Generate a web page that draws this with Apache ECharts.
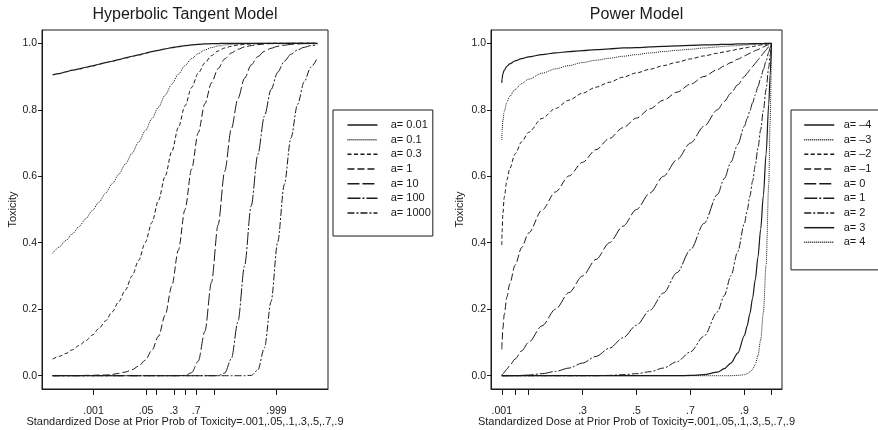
<!DOCTYPE html>
<html>
<head>
<meta charset="utf-8">
<script src="https://cdn.jsdelivr.net/npm/echarts@6/dist/echarts.min.js"></script>
<style>
  html, body { margin: 0; padding: 0; background: #fff; }
  #chart { width: 878px; height: 430px; }
</style>
</head>
<body>
<div id="chart"></div>
<script>
// ---- Hyperbolic tangent model: standardized dose -5..5 ----
const tanhX = [-5, -4.75, -4.5, -4.25, -4, -3.75, -3.5, -3.25, -3, -2.75, -2.5, -2.25, -2, -1.75, -1.5, -1.25, -1, -0.75, -0.5, -0.25,
  0, 0.25, 0.5, 0.75, 1, 1.25, 1.5, 1.75, 2, 2.25, 2.5, 2.75, 3, 3.25, 3.5, 3.75, 4, 4.25, 4.5, 4.75, 5]

const tanhA001 = [0.905, 0.909, 0.914, 0.919, 0.923, 0.928, 0.932, 0.937, 0.942, 0.946, 0.951, 0.956, 0.961, 0.965, 0.970, 0.975, 0.979, 0.983, 0.987, 0.990,
  0.993, 0.995, 0.997, 0.998, 0.999, 0.999, 1, 1, 1, 1, 1, 1, 1, 1, 1, 1, 1, 1, 1, 1, 1]
const tanhA01 = [0.368, 0.387, 0.407, 0.427, 0.449, 0.472, 0.497, 0.522, 0.549, 0.577, 0.606, 0.637, 0.669, 0.703, 0.737, 0.773, 0.808, 0.844, 0.877, 0.907,
  0.933, 0.954, 0.969, 0.980, 0.987, 0.992, 0.995, 0.997, 0.998, 0.999, 0.999, 1, 1, 1, 1, 1, 1, 1, 1, 1, 1]
const tanhA03 = [0.050, 0.058, 0.067, 0.078, 0.091, 0.105, 0.122, 0.142, 0.165, 0.192, 0.223, 0.258, 0.300, 0.347, 0.401, 0.461, 0.528, 0.600, 0.674, 0.747,
  0.812, 0.867, 0.910, 0.941, 0.963, 0.977, 0.986, 0.991, 0.995, 0.997, 0.998, 0.999, 0.999, 1, 1, 1, 1, 1, 1, 1, 1]
const tanhA1 = [0, 0, 0, 0, 0, 0.001, 0.001, 0.002, 0.002, 0.004, 0.007, 0.011, 0.018, 0.029, 0.047, 0.076, 0.119, 0.182, 0.269, 0.378,
  0.5, 0.622, 0.731, 0.818, 0.881, 0.924, 0.953, 0.971, 0.982, 0.989, 0.993, 0.996, 0.998, 0.999, 0.999, 0.999, 1, 1, 1, 1, 1]
const tanhA10 = [0, 0, 0, 0, 0, 0, 0, 0, 0, 0, 0, 0, 0, 0, 0, 0, 0, 0, 0, 0,
  0.001, 0.009, 0.044, 0.133, 0.281, 0.454, 0.615, 0.743, 0.834, 0.895, 0.935, 0.960, 0.976, 0.985, 0.991, 0.994, 0.997, 0.998, 0.999, 0.999, 0.999]
const tanhA100 = [0, 0, 0, 0, 0, 0, 0, 0, 0, 0, 0, 0, 0, 0, 0, 0, 0, 0, 0, 0,
  0, 0, 0, 0, 0, 0, 0.008, 0.051, 0.163, 0.331, 0.511, 0.665, 0.781, 0.861, 0.913, 0.946, 0.967, 0.980, 0.988, 0.993, 0.995]
const tanhA1000 = [0, 0, 0, 0, 0, 0, 0, 0, 0, 0, 0, 0, 0, 0, 0, 0, 0, 0, 0, 0,
  0, 0, 0, 0, 0, 0, 0, 0, 0, 0, 0.001, 0.017, 0.084, 0.223, 0.402, 0.575, 0.715, 0.816, 0.884, 0.928, 0.956]

const tanhNames = ['a= 0.01', 'a= 0.1', 'a= 0.3', 'a= 1', 'a= 10', 'a= 100', 'a= 1000']
const tanhValues = [tanhA001, tanhA01, tanhA03, tanhA1, tanhA10, tanhA100, tanhA1000]
const tanhTicks = [-3.453, -1.472, -1.099, -0.424, 0, 0.424, 1.099, 3.453]
const tanhTickLabels = ['.001', '.05', '', '.3', '', '.7', '', '.999']

// ---- Power model: standardized dose .001..1 ----
const powX = [0.001, 0.002, 0.005, 0.01, 0.02, 0.03, 0.05, 0.075, 0.1, 0.15, 0.2, 0.25, 0.3, 0.35, 0.4, 0.45, 0.5, 0.55, 0.6,
  0.65, 0.7, 0.75, 0.8, 0.825, 0.85, 0.875, 0.9, 0.91, 0.92, 0.93, 0.94, 0.95, 0.96, 0.97, 0.98, 0.99, 0.995, 1]

const powM4 = [0.881, 0.892, 0.908, 0.919, 0.931, 0.938, 0.947, 0.954, 0.959, 0.966, 0.971, 0.975, 0.978, 0.981, 0.983, 0.986, 0.987, 0.989, 0.991,
  0.992, 0.994, 0.995, 0.996, 0.997, 0.997, 0.998, 0.998, 0.998, 0.999, 0.999, 0.999, 0.999, 0.999, 0.999, 1, 1, 1, 1]
const powM3 = [0.709, 0.734, 0.768, 0.795, 0.823, 0.840, 0.861, 0.879, 0.892, 0.910, 0.923, 0.933, 0.942, 0.949, 0.955, 0.961, 0.966, 0.971, 0.975,
  0.979, 0.982, 0.986, 0.989, 0.991, 0.992, 0.993, 0.995, 0.995, 0.996, 0.996, 0.997, 0.998, 0.998, 0.999, 0.999, 1, 1, 1]
const powM2 = [0.393, 0.431, 0.488, 0.536, 0.589, 0.622, 0.667, 0.704, 0.732, 0.774, 0.804, 0.829, 0.850, 0.868, 0.883, 0.898, 0.911, 0.922, 0.933,
  0.943, 0.953, 0.962, 0.970, 0.974, 0.978, 0.982, 0.986, 0.987, 0.989, 0.990, 0.992, 0.993, 0.995, 0.996, 0.997, 0.999, 0.999, 1]
const powM1 = [0.079, 0.102, 0.142, 0.184, 0.237, 0.275, 0.332, 0.386, 0.429, 0.498, 0.553, 0.601, 0.642, 0.680, 0.714, 0.746, 0.775, 0.803, 0.829,
  0.853, 0.877, 0.900, 0.921, 0.932, 0.942, 0.952, 0.962, 0.966, 0.970, 0.974, 0.978, 0.981, 0.985, 0.989, 0.993, 0.996, 0.998, 1]
const pow0 = [0.001, 0.002, 0.005, 0.01, 0.02, 0.03, 0.05, 0.075, 0.1, 0.15, 0.2, 0.25, 0.3, 0.35, 0.4, 0.45, 0.5, 0.55, 0.6,
  0.65, 0.7, 0.75, 0.8, 0.825, 0.85, 0.875, 0.9, 0.91, 0.92, 0.93, 0.94, 0.95, 0.96, 0.97, 0.98, 0.99, 0.995, 1]
const powP1 = [0, 0, 0, 0, 0, 0, 0, 0.001, 0.002, 0.006, 0.013, 0.023, 0.038, 0.058, 0.083, 0.114, 0.152, 0.197, 0.249,
  0.310, 0.379, 0.458, 0.545, 0.593, 0.643, 0.696, 0.751, 0.774, 0.797, 0.821, 0.845, 0.870, 0.895, 0.921, 0.947, 0.973, 0.987, 1]
const powP2 = [0, 0, 0, 0, 0, 0, 0, 0, 0, 0, 0, 0, 0, 0, 0.001, 0.003, 0.006, 0.012, 0.023,
  0.042, 0.072, 0.119, 0.192, 0.241, 0.301, 0.373, 0.459, 0.498, 0.540, 0.585, 0.633, 0.685, 0.740, 0.798, 0.861, 0.928, 0.964, 1]
const powP3 = [0, 0, 0, 0, 0, 0, 0, 0, 0, 0, 0, 0, 0, 0, 0, 0, 0, 0, 0,
  0, 0.001, 0.003, 0.011, 0.021, 0.038, 0.068, 0.121, 0.150, 0.187, 0.233, 0.289, 0.357, 0.441, 0.542, 0.667, 0.817, 0.904, 1]
const powP4 = [0, 0, 0, 0, 0, 0, 0, 0, 0, 0, 0, 0, 0, 0, 0, 0, 0, 0, 0,
  0, 0, 0, 0, 0, 0, 0.001, 0.003, 0.006, 0.011, 0.019, 0.034, 0.061, 0.108, 0.190, 0.332, 0.578, 0.761, 1]

const powNames = ['a= \u20134', 'a= \u20133', 'a= \u20132', 'a= \u20131', 'a= 0', 'a= 1', 'a= 2', 'a= 3', 'a= 4']
const powValues = [powM4, powM3, powM2, powM1, pow0, powP1, powP2, powP3, powP4]
const powTicks = [0.001, 0.05, 0.1, 0.3, 0.5, 0.7, 0.9, 1]
const powTickLabels = ['.001', '', '', '.3', '.5', '.7', '.9', '']

const yTicks = [0, 0.2, 0.4, 0.6, 0.8, 1.0]
const xTitle = 'Standardized Dose at Prior Prob of Toxicity=.001,.05,.1,.3,.5,.7,.9'

// line patterns, one per curve (R lty 1..6 style)
const tanhDash = ['solid', [1, 1], [4, 2.5], [7, 3], [12, 3], [13, 2, 2, 2], [7, 2, 2, 2]]
const powDash = ['solid', [1, 1], [4, 2.5], [7, 3], [12, 3], [13, 2, 2, 2], [7, 2, 2, 2], 'solid', [1, 1]]

const FONT = '"Liberation Sans", Arial, Helvetica, sans-serif'
const INK = '#1a1a1a'

function lineSeries(key, name, xs, ys, dash, idx) {
  return {
    name: key + '|' + name,
    type: 'line',
    xAxisIndex: idx,
    yAxisIndex: idx,
    data: xs.map((x, i) => [x, ys[i]]),
    symbol: 'none',
    showSymbol: false,
    smooth: 0.3,
    smoothMonotone: 'x',
    lineStyle: { color: INK, width: dash === 'solid' ? 1.2 : 1, type: dash },
    itemStyle: { color: INK },
    emphasis: { disabled: true },
    silent: true,
  }
}

function doseAxis(idx, min, max, ticks, labels) {
  return {
    type: 'value',
    gridIndex: idx,
    min,
    max,
    axisLine: { show: true, onZero: false, lineStyle: { color: INK, width: 1 } },
    splitLine: { show: false },
    axisTick: { show: true, length: 6, lineStyle: { color: INK }, customValues: ticks },
    axisLabel: {
      customValues: ticks.filter((t, i) => labels[i] !== ''),
      formatter: (v) => {
        const i = ticks.findIndex(t => Math.abs(t - v) < 1e-6)
        return i >= 0 ? labels[i] : ''
      },
      margin: 17,
      fontSize: 10.5,
      color: INK,
      fontFamily: FONT,
    },
    name: xTitle,
    nameLocation: 'middle',
    nameGap: 27,
    nameMoveOverlap: false,
    nameTextStyle: { fontSize: 11, color: INK, fontFamily: FONT },
  }
}

function toxAxis(idx, gap) {
  return {
    type: 'value',
    gridIndex: idx,
    min: -0.04,
    max: 1.04,
    axisLine: { show: true, onZero: false, lineStyle: { color: INK, width: 1 } },
    splitLine: { show: false },
    axisTick: { show: true, length: 4, lineStyle: { color: INK }, customValues: yTicks },
    axisLabel: {
      customValues: yTicks,
      formatter: v => v.toFixed(1),
      margin: 5,
      fontSize: 10.5,
      color: INK,
      fontFamily: FONT,
    },
    name: 'Toxicity',
    nameLocation: 'middle',
    nameGap: gap,
    nameMoveOverlap: false,
    nameTextStyle: { fontSize: 11, color: INK, fontFamily: FONT },
  }
}

function legendBox(key, names, left, padding, textPad) {
  return {
    data: names.map(n => key + '|' + n),
    formatter: n => n.split('|')[1],
    orient: 'vertical',
    left,
    top: 110,
    itemWidth: 30,
    itemHeight: 11,
    itemGap: 3.67,
    padding,
    borderColor: INK,
    borderWidth: 1,
    selectedMode: false,
    itemStyle: { opacity: 0 },
    lineStyle: { width: 1.5 },
    textStyle: { fontSize: 11, color: INK, fontFamily: FONT, padding: [0, 0, 0, textPad] },
  }
}

const series = []
tanhNames.forEach((n, i) => series.push(lineSeries('L', n, tanhX, tanhValues[i], tanhDash[i], 0)))
powNames.forEach((n, i) => series.push(lineSeries('R', n, powX, powValues[i], powDash[i], 1)))

const chart = echarts.init(document.getElementById('chart'))
chart.setOption({
  animation: false,
  backgroundColor: '#fff',
  title: [
    { text: 'Hyperbolic Tangent Model', left: 185, top: 7, textAlign: 'center', padding: 0,
      textStyle: { fontSize: 16, fontWeight: 'normal', color: INK, fontFamily: FONT } },
    { text: 'Power Model', left: 636.5, top: 7, textAlign: 'center', padding: 0,
      textStyle: { fontSize: 16, fontWeight: 'normal', color: INK, fontFamily: FONT } },
  ],
  grid: [
    { left: 42, top: 30, width: 286, height: 359, show: true, borderColor: INK, borderWidth: 1,
      backgroundColor: 'transparent', containLabel: false, outerBoundsMode: 'none' },
    { left: 491, top: 30, width: 291, height: 359, show: true, borderColor: INK, borderWidth: 1,
      backgroundColor: 'transparent', containLabel: false, outerBoundsMode: 'none' },
  ],
  xAxis: [
    doseAxis(0, -5.4, 5.4, tanhTicks, tanhTickLabels),
    doseAxis(1, -0.039, 1.039, powTicks, powTickLabels),
  ],
  yAxis: [toxAxis(0, 23.5), toxAxis(1, 25.5)],
  legend: [
    legendBox('L', tanhNames, 333, [9.5, 2, 17.5, 13.7], 8.3),
    legendBox('R', powNames, 791, [9.5, 12, 22, 12.5], 4.4),
  ],
  series,
})
</script>
</body>
</html>
